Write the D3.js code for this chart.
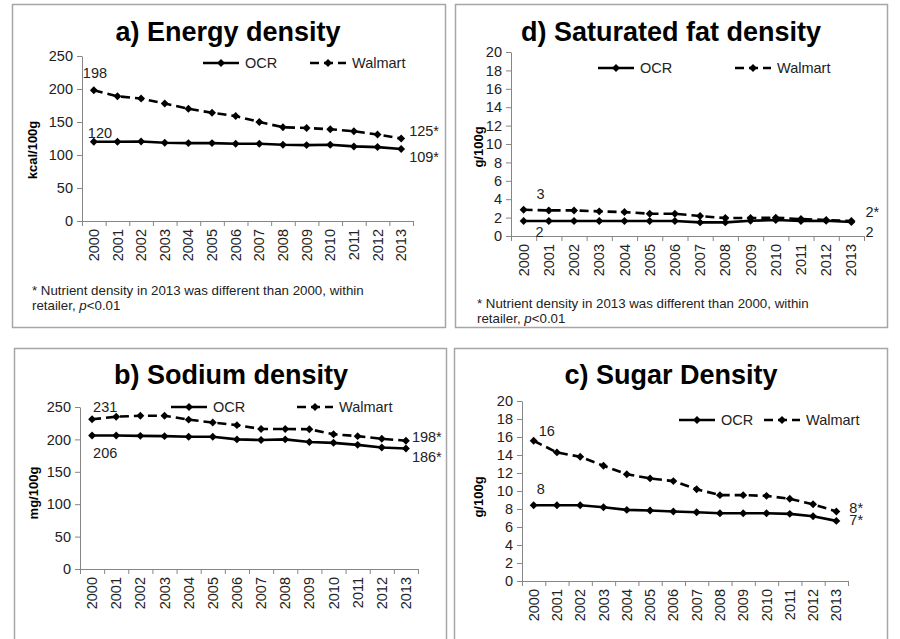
<!DOCTYPE html>
<html>
<head>
<meta charset="utf-8">
<script src="https://cdn.jsdelivr.net/npm/d3@7"></script>
<style>
  body { margin: 0; background: #fff; }
  svg { font-family: 'Liberation Sans', Arial, sans-serif; }
</style>
</head>
<body>
<div class="chart"></div>
<script>
// Years on the x axis
const years = ['2000', '2001', '2002', '2003', '2004', '2005', '2006',
    '2007', '2008', '2009', '2010', '2011', '2012', '2013']

const seriesNames = ['OCR', 'Walmart']

// a) Energy density, kcal/100g
const energyOCR = [120, 120, 120.5, 118.5, 118, 118, 117, 117, 115.5, 115, 115.5, 113, 112, 109]
const energyWalmart = [198, 189, 185.5, 178, 170, 164, 159, 150, 142, 141, 139, 136, 131, 125]

// b) Sodium density, mg/100g
const sodiumOCR = [206, 206, 205.5, 205, 204, 204, 200, 199, 200, 196, 194.7, 191.6, 187.5, 186]
const sodiumWalmart = [231, 235, 236.5, 236.5, 230.5, 226, 222, 216, 216, 215.7, 208, 205, 201, 198]

// c) Sugar density, g/100g
const sugarOCR = [8.42, 8.42, 8.42, 8.2, 7.9, 7.83, 7.72, 7.64, 7.53, 7.53, 7.53, 7.46, 7.2, 6.68]
const sugarWalmart = [15.58, 14.29, 13.8, 12.8, 11.87, 11.4, 11.1, 10.2, 9.54, 9.54, 9.46, 9.13, 8.53, 7.72]

// d) Saturated fat density, g/100g
const satfatOCR = [1.63, 1.63, 1.63, 1.63, 1.63, 1.63, 1.63, 1.48, 1.48, 1.66, 1.74, 1.63, 1.66, 1.52]
const satfatWalmart = [2.86, 2.78, 2.78, 2.68, 2.6, 2.42, 2.42, 2.17, 1.95, 1.95, 1.99, 1.84, 1.74, 1.63]

// Was 2013 different from 2000? [OCR, Walmart]
const energySig = [true, true]
const sodiumSig = [true, true]
const sugarSig = [true, true]
const satfatSig = [false, true]

const footnote = ['* Nutrient density in 2013 was different than 2000, within', 'retailer, ']

/* Panel layout */
const panels = [
    {
        title: 'a) Energy density', unit: 'kcal/100g', ocr: energyOCR, walmart: energyWalmart, sig: energySig,
        box: [12, 4, 445, 327], left: 82, right: 413, top: 56, bottom: 221, max: 250, step: 50,
        titleX: 228, titleY: 41, legendY: 63, legendX: [203, 310], unitX: 32, unitY: 150,
        // label offsets: [walmart start, ocr start, walmart end, ocr end]
        lab: [[-11, -17], [-6, -9], [8, -8], [8, 8]], note: [32, 295],
    },
    {
        title: 'd) Saturated fat density', unit: 'g/100g', ocr: satfatOCR, walmart: satfatWalmart, sig: satfatSig,
        box: [455, 4, 887, 327], left: 511, right: 864, top: 52, bottom: 236, max: 20, step: 2,
        titleX: 671, titleY: 41, legendY: 68, legendX: [598, 735], unitX: 478, unitY: 147,
        lab: [[13, -16], [12, 11], [14, -9], [14, 10]], note: [477, 308],
    },
    {
        title: 'b) Sodium density', unit: 'mg/100g', ocr: sodiumOCR, walmart: sodiumWalmart, sig: sodiumSig,
        box: [14, 348, 446, 650], left: 80, right: 418, top: 407, bottom: 569, max: 250, step: 50,
        titleX: 231, titleY: 384, legendY: 407, legendX: [171, 297], unitX: 33, unitY: 493,
        lab: [[1, -12], [1, 17], [6, -4], [6, 8]], note: null,
    },
    {
        title: 'c) Sugar Density', unit: 'g/100g', ocr: sugarOCR, walmart: sugarWalmart, sig: sugarSig,
        box: [454, 348, 887, 650], left: 522, right: 848, top: 401, bottom: 581, max: 20, step: 2,
        titleX: 671, titleY: 384, legendY: 420, legendX: [679, 764], unitX: 478, unitY: 497,
        lab: [[5, -10], [3, -16], [13, -4], [13, -1]], note: null,
    },
]

const width = 900
const height = 639
const axisColor = '#868686'
const fontFamily = "'Liberation Sans', Arial, sans-serif"
const labelSize = 14.5

const svg = d3.select('.chart')
    .append('svg')
    .attr('width', width)
    .attr('height', height)

const diamond = d3.symbol().type(d3.symbolDiamond2).size(40)

function drawPanel(p) {
    const g = svg.append('g')

    // Frame
    g.append('rect')
        .attr('x', p.box[0] + 0.5)
        .attr('y', p.box[1] + 0.5)
        .attr('width', p.box[2] - p.box[0])
        .attr('height', p.box[3] - p.box[1])
        .attr('fill', 'none')
        .attr('stroke', '#a6a6a6')
        .attr('stroke-width', 1.5)

    const x = d3.scaleBand().domain(years).range([p.left, p.right])
    const xEdge = d3.scaleLinear().domain([0, years.length]).range([p.left, p.right])
    const y = d3.scaleLinear().domain([0, p.max]).range([p.bottom, p.top])

    // y axis
    const yAxis = g.append('g')
        .attr('transform', `translate(${p.left},0)`)
        .call(d3.axisLeft(y).tickValues(d3.range(0, p.max + p.step / 2, p.step)).tickSize(5).tickPadding(4).tickSizeOuter(0))
    yAxis.selectAll('line, path').attr('stroke', axisColor)
    yAxis.selectAll('text').attr('font-size', labelSize).attr('fill', '#222')
        .attr('font-family', fontFamily)

    // x axis: ticks between the categories
    const xTicks = g.append('g')
        .attr('transform', `translate(0,${p.bottom})`)
        .call(d3.axisBottom(xEdge).tickValues(d3.range(0, years.length + 1)).tickSize(5).tickFormat('').tickSizeOuter(0))
    xTicks.selectAll('line, path').attr('stroke', axisColor)

    const xLabels = g.append('g')
        .attr('transform', `translate(0,${p.bottom})`)
        .call(d3.axisBottom(x).tickSize(0).tickPadding(0))
    xLabels.select('.domain').remove()
    xLabels.selectAll('text')
        .attr('font-size', labelSize)
        .attr('fill', '#222')
        .attr('font-family', fontFamily)
        .attr('transform', 'rotate(-90)')
        .attr('text-anchor', 'end')
        .attr('x', -8)
        .attr('y', 0)
        .attr('dy', '0.35em')

    // Title
    g.append('text')
        .attr('x', p.titleX)
        .attr('y', p.titleY)
        .attr('text-anchor', 'middle')
        .attr('font-size', 27)
        .attr('font-weight', 'bold')
        .text(p.title)

    // Unit label
    g.append('text')
        .attr('transform', `translate(${p.unitX},${p.unitY}) rotate(-90)`)
        .attr('text-anchor', 'middle')
        .attr('dy', '0.35em')
        .attr('font-size', 13)
        .attr('font-weight', 'bold')
        .text(p.unit)

    // Lines
    const line = d3.line()
        .x((d, i) => x(years[i]) + x.bandwidth() / 2)
        .y(d => y(d))

    const series = [
        { values: p.ocr, dash: null },
        { values: p.walmart, dash: '9,5' },
    ]
    series.forEach(s => {
        g.append('path')
            .datum(s.values)
            .attr('fill', 'none')
            .attr('stroke', '#000')
            .attr('stroke-width', 2.6)
            .attr('stroke-dasharray', s.dash)
            .attr('d', line)
        g.append('g')
            .selectAll('path')
            .data(s.values)
            .join('path')
            .attr('d', diamond)
            .attr('transform', (d, i) => `translate(${x(years[i]) + x.bandwidth() / 2},${y(d)})`)
    })

    // Legend
    seriesNames.forEach((name, i) => {
        const lx = p.legendX[i]
        g.append('line')
            .attr('x1', lx).attr('x2', lx + 36)
            .attr('y1', p.legendY).attr('y2', p.legendY)
            .attr('stroke', '#000')
            .attr('stroke-width', 2.6)
            .attr('stroke-dasharray', i === 1 ? '9,5' : null)
        g.append('path')
            .attr('d', diamond)
            .attr('transform', `translate(${lx + 18},${p.legendY})`)
        g.append('text')
            .attr('x', lx + 42)
            .attr('y', p.legendY)
            .attr('dy', '0.35em')
            .attr('font-size', labelSize)
            .attr('fill', '#222')
            .text(name)
    })

    // Value labels at 2000 and 2013
    const last = years.length - 1
    const cx = i => x(years[i]) + x.bandwidth() / 2
    const labels = [
        { i: 0, v: p.walmart[0], t: `${Math.round(p.walmart[0])}` },
        { i: 0, v: p.ocr[0], t: `${Math.round(p.ocr[0])}` },
        { i: last, v: p.walmart[last], t: `${Math.round(p.walmart[last])}${p.sig[1] ? '*' : ''}` },
        { i: last, v: p.ocr[last], t: `${Math.round(p.ocr[last])}${p.sig[0] ? '*' : ''}` },
    ]
    g.append('g')
        .selectAll('text')
        .data(labels)
        .join('text')
        .attr('x', (d, k) => cx(d.i) + p.lab[k][0])
        .attr('y', (d, k) => y(d.v) + p.lab[k][1])
        .attr('dy', '0.35em')
        .attr('font-size', labelSize)
        .attr('fill', '#222')
        .text(d => d.t)

    // Footnote
    if (p.note) {
        const note = g.append('g').attr('font-size', 13.3).attr('fill', '#222')
        note.append('text').attr('x', p.note[0]).attr('y', p.note[1]).text(footnote[0])
        const t2 = note.append('text').attr('x', p.note[0]).attr('y', p.note[1] + 15)
        t2.append('tspan').text(footnote[1])
        t2.append('tspan').attr('font-style', 'italic').text('p')
        t2.append('tspan').text('<0.01')
    }
}

panels.forEach(drawPanel)
</script>
</body>
</html>
